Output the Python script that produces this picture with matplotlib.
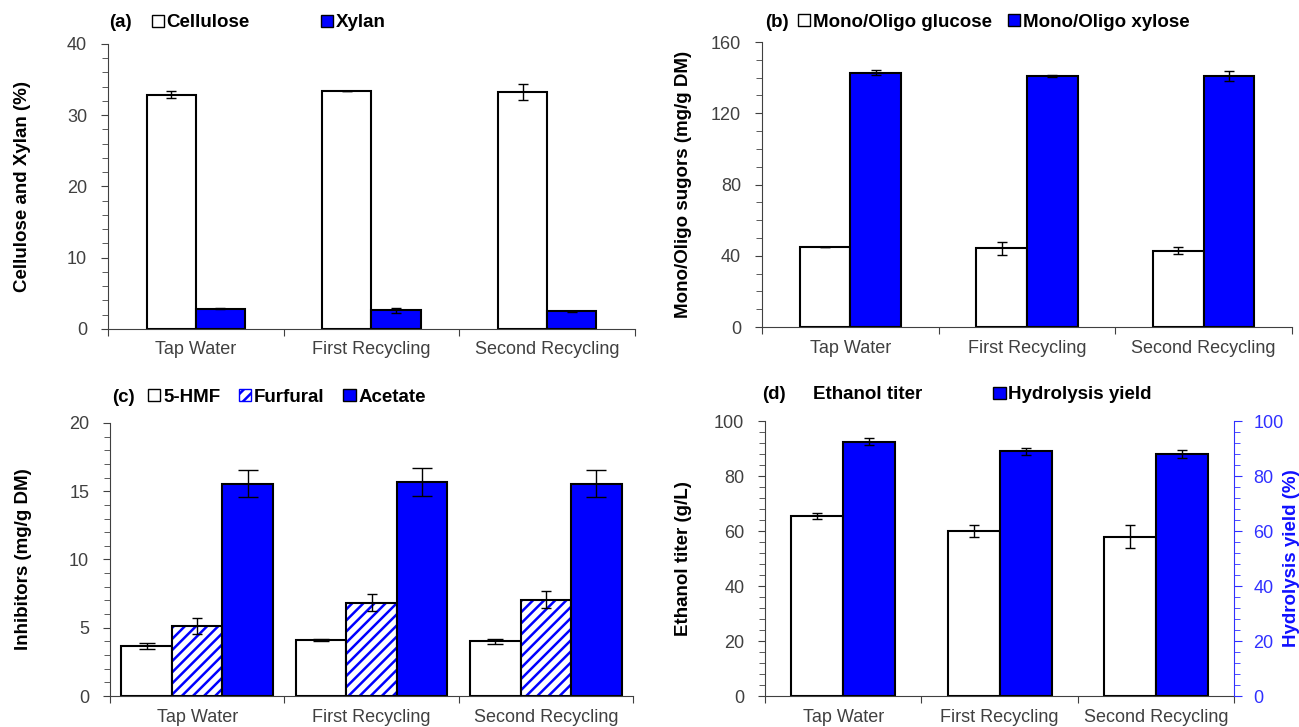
import matplotlib
matplotlib.use('Agg')
import matplotlib.pyplot as plt
from matplotlib.patches import Patch
from matplotlib.ticker import MultipleLocator
import numpy as np

plt.rcParams['font.family'] = ['Liberation Sans', 'DejaVu Sans']
plt.rcParams['hatch.linewidth'] = 1.8

# Datos
categorias = ['Tap Water', 'First Recycling', 'Second Recycling']

celulosa = [32.9, 33.4, 33.3]
celulosa_err = [0.5, 0.05, 1.1]
xilano = [2.85, 2.65, 2.5]
xilano_err = [0.05, 0.35, 0.05]

glucosa = [44.9, 44.2, 42.9]
glucosa_err = [0.2, 3.8, 2.0]
xilosa = [142.7, 141.0, 141.0]
xilosa_err = [1.4, 0.7, 3.0]

hmf = [3.66, 4.1, 4.0]
hmf_err = [0.22, 0.1, 0.2]
furfural = [5.12, 6.85, 7.07]
furfural_err = [0.6, 0.6, 0.63]
acetato = [15.56, 15.68, 15.56]
acetato_err = [1.0, 1.0, 1.0]

etanol = [65.4, 60.0, 58.0]
etanol_err = [1.0, 2.1, 4.2]
hidrolisis = [92.4, 89.0, 88.0]
hidrolisis_err = [1.3, 1.3, 1.3]

AZUL = '#0000FF'
GRIS = '#404040'
centros = np.arange(3) + 0.5
ekw = dict(elinewidth=1.0, ecolor='black', capthick=1.0)


def estilo(ax, ymax, mayor, menor):
    ax.set_xlim(0, 3)
    ax.set_ylim(0, ymax)
    ax.yaxis.set_major_locator(MultipleLocator(mayor))
    ax.yaxis.set_minor_locator(MultipleLocator(menor))
    ax.set_xticks([0, 1, 2, 3])
    ax.set_xticklabels([])
    ax.set_xticks(centros, minor=True)
    ax.set_xticklabels(categorias, minor=True)
    ax.tick_params(axis='x', which='major', direction='out', length=5, color=GRIS)
    ax.tick_params(axis='x', which='minor', length=0, pad=9, labelsize=13, labelcolor=GRIS)
    ax.tick_params(axis='y', which='major', direction='out', length=5, pad=10,
                   labelsize=13, labelcolor=GRIS, color=GRIS)
    ax.tick_params(axis='y', which='minor', direction='out', length=4, color=GRIS)
    ax.spines['top'].set_visible(False)
    ax.spines['right'].set_visible(False)
    ax.spines['left'].set_color(GRIS)
    ax.spines['bottom'].set_color(GRIS)


def etiqueta_y(ax, texto, x, color='black'):
    ax.text(x, 0.5, texto, transform=ax.transAxes, rotation=90, ha='center',
            va='center', fontsize=13.5, fontweight='bold', color=color)


def leyenda(ax, letra, handles, xl, x, y, sep):
    ax.text(xl, y, letra, transform=ax.transAxes, ha='left', va='center',
            fontsize=13.5, fontweight='bold')
    ax.legend(handles=handles, loc='center left', bbox_to_anchor=(x, y),
              ncol=len(handles), frameon=False, borderpad=0, borderaxespad=0,
              handlelength=0.65, handleheight=0.65, handletextpad=0.15,
              columnspacing=sep, prop={'weight': 'bold', 'size': 13.5})


fig = plt.figure(figsize=(12.99, 7.27), dpi=100)

# (a) Celulosa y xilano
ax1 = fig.add_axes([0.0831, 0.5475, 0.4057, 0.392])
w = 0.28
ax1.bar(centros - w/2, celulosa, w, color='white', edgecolor='black', lw=1.5,
        yerr=celulosa_err, capsize=3.6, error_kw=ekw)
ax1.bar(centros + w/2, xilano, w, color=AZUL, edgecolor='black', lw=1.5,
        yerr=xilano_err, capsize=3.6, error_kw=ekw)
estilo(ax1, 40, 10, 2)
etiqueta_y(ax1, 'Cellulose and Xylan (%)', -85/527)
leyenda(ax1, '(a)',
        [Patch(facecolor='white', edgecolor='black', label='Cellulose'),
         Patch(facecolor=AZUL, edgecolor='black', label='Xylan')],
        0.002, 0.083, 1.074, 3.8)

# (b) Azucares
ax2 = fig.add_axes([0.5866, 0.5502, 0.4080, 0.392])
w = 0.287
ax2.bar(centros - w/2, glucosa, w, color='white', edgecolor='black', lw=1.5,
        yerr=glucosa_err, capsize=3.6, error_kw=ekw)
ax2.bar(centros + w/2, xilosa, w, color=AZUL, edgecolor='black', lw=1.5,
        yerr=xilosa_err, capsize=3.6, error_kw=ekw)
estilo(ax2, 160, 40, 10)
etiqueta_y(ax2, 'Mono/Oligo sugors (mg/g DM)', -79/531)
leyenda(ax2, '(b)',
        [Patch(facecolor='white', edgecolor='black', label='Mono/Oligo glucose'),
         Patch(facecolor=AZUL, edgecolor='black', label='Mono/Oligo xylose')],
        0.006, 0.068, 1.070, 0.85)

# (c) Inhibidores
ax3 = fig.add_axes([0.0847, 0.0426, 0.4026, 0.3756])
w = 0.29
ax3.bar(centros - w, hmf, w, color='white', edgecolor='black', lw=1.5,
        yerr=hmf_err, capsize=6, error_kw=ekw)
ax3.bar(centros, furfural, w, color='white', edgecolor=AZUL, hatch='///', lw=0)
ax3.bar(centros, furfural, w, fill=False, edgecolor='black', lw=1.5,
        yerr=furfural_err, capsize=3.6, error_kw=ekw)
ax3.bar(centros + w, acetato, w, color=AZUL, edgecolor='black', lw=1.5,
        yerr=acetato_err, capsize=7, error_kw=ekw)
estilo(ax3, 20, 5, 1)
etiqueta_y(ax3, 'Inhibitors (mg/g DM)', -87/523)
leyenda(ax3, '(c)',
        [Patch(facecolor='white', edgecolor='black', label='5-HMF'),
         Patch(facecolor='white', edgecolor=AZUL, hatch='///', label='Furfural'),
         Patch(facecolor=AZUL, edgecolor='black', label='Acetate')],
        0.004, 0.073, 1.095, 1.0)

# (d) Etanol e hidrolisis
ax4 = fig.add_axes([0.589, 0.0426, 0.361, 0.3783])
ax5 = ax4.twinx()
w = 0.333
ax4.bar(centros - w/2, etanol, w, color='white', edgecolor='black', lw=1.5,
        yerr=etanol_err, capsize=3.6, error_kw=ekw)
ax5.bar(centros + w/2, hidrolisis, w, color=AZUL, edgecolor='black', lw=1.5,
        yerr=hidrolisis_err, capsize=3.6, error_kw=ekw)
estilo(ax4, 100, 20, 4)
ax5.set_ylim(0, 100)
ax5.yaxis.set_major_locator(MultipleLocator(20))
ax5.yaxis.set_minor_locator(MultipleLocator(4))
ax5.tick_params(axis='y', which='major', direction='out', length=6, pad=8,
                labelsize=13, labelcolor='#3030FF', color='#3030FF')
ax5.tick_params(axis='y', which='minor', direction='out', length=4, color='#3030FF')
for lado in ['top', 'left', 'bottom']:
    ax5.spines[lado].set_visible(False)
ax5.spines['right'].set_color('#3030FF')
etiqueta_y(ax4, 'Ethanol titer (g/L)', -82/469)
etiqueta_y(ax4, 'Hydrolysis yield (%)', 1 + 57/469, color='#1010FF')
leyenda(ax5, '(d)',
        [Patch(facecolor='none', edgecolor='none', label='Ethanol titer'),
         Patch(facecolor=AZUL, edgecolor='black', label='Hydrolysis yield')],
        -0.006, 0.07, 1.095, 3.8)

fig.savefig('out.png', dpi=100)
